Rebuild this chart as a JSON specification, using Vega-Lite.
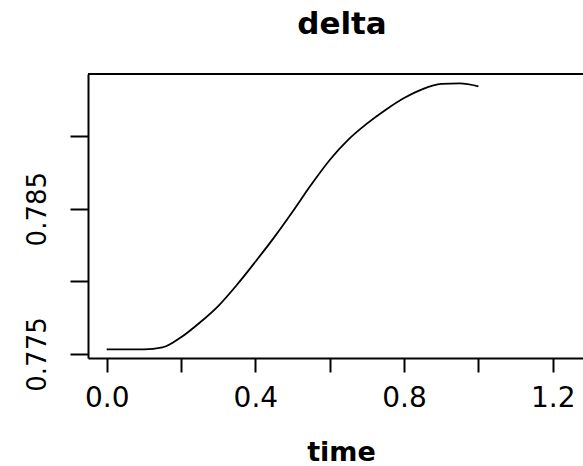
{
  "$schema": "https://vega.github.io/schema/vega-lite/v6.json",
  "autosize": {"type": "none"},
  "padding": {"left": 88, "top": 74, "right": 0, "bottom": 108},
  "width": 495,
  "height": 284,
  "background": "white",
  "title": {
    "text": "delta",
    "font": "DejaVu Sans",
    "fontWeight": "bold",
    "fontSize": 31,
    "color": "black",
    "anchor": "middle",
    "baseline": "alphabetic",
    "offset": 8,
    "dx": 6.5
  },
  "config": {
    "view": {"stroke": null},
    "axis": {
      "domainColor": "black",
      "domainWidth": 2,
      "tickColor": "black",
      "tickWidth": 2,
      "grid": false,
      "labelColor": "black",
      "titleColor": "black"
    }
  },
  "data": {
    "values": [
      {"time": 0.00, "delta": 0.77532},
      {"time": 0.05, "delta": 0.77532},
      {"time": 0.10, "delta": 0.77532},
      {"time": 0.15, "delta": 0.77545},
      {"time": 0.20, "delta": 0.77615},
      {"time": 0.25, "delta": 0.77715},
      {"time": 0.30, "delta": 0.77830},
      {"time": 0.35, "delta": 0.77975},
      {"time": 0.40, "delta": 0.78135},
      {"time": 0.45, "delta": 0.78301},
      {"time": 0.50, "delta": 0.78479},
      {"time": 0.55, "delta": 0.78664},
      {"time": 0.60, "delta": 0.78835},
      {"time": 0.65, "delta": 0.78975},
      {"time": 0.70, "delta": 0.79085},
      {"time": 0.75, "delta": 0.79179},
      {"time": 0.80, "delta": 0.79261},
      {"time": 0.85, "delta": 0.79323},
      {"time": 0.90, "delta": 0.79358},
      {"time": 0.95, "delta": 0.79362},
      {"time": 1.00, "delta": 0.79342}
    ]
  },
  "layer": [
    {
      "mark": {"type": "line", "color": "black", "strokeWidth": 1.8, "interpolate": "monotone"},
      "encoding": {
        "x": {
          "field": "time",
          "type": "quantitative",
          "scale": {"domain": [-0.0503, 1.2814], "nice": false, "zero": false},
          "axis": {
            "orient": "bottom",
            "values": [0, 0.2, 0.4, 0.6, 0.8, 1.0, 1.2],
            "format": ".1f",
            "labelExpr": "indexof(['0.0','0.4','0.8','1.2'], datum.label) >= 0 ? datum.label : ''",
            "tickSize": 14,
            "labelFont": "DejaVu Sans",
            "labelFontSize": 28,
            "labelPadding": 12,
            "labelFlush": false,
            "labelOverlap": false,
            "title": "time",
            "titleFont": "DejaVu Sans",
            "titleFontWeight": "bold",
            "titleFontSize": 27,
            "titleX": 253,
            "titleY": 94,
            "titleAlign": "center",
            "titleBaseline": "middle"
          }
        },
        "y": {
          "field": "delta",
          "type": "quantitative",
          "scale": {"domain": [0.774725, 0.794266], "nice": false, "zero": false},
          "axis": {
            "orient": "left",
            "values": [0.775, 0.78, 0.785, 0.79],
            "format": ".3f",
            "labelExpr": "datum.label == '0.775' || datum.label == '0.785' ? datum.label : ''",
            "tickSize": 18,
            "labelAngle": 270,
            "labelAlign": "center",
            "labelBaseline": "bottom",
            "labelFont": "DejaVu Sans",
            "labelFontSize": 26,
            "labelPadding": 20,
            "labelFlush": false,
            "labelOverlap": false,
            "title": null
          }
        }
      }
    },
    {
      "mark": {"type": "rule", "color": "black", "strokeWidth": 2},
      "encoding": {
        "x": {"datum": -0.0503, "type": "quantitative"},
        "x2": {"datum": 1.2814},
        "y": {"datum": 0.794266, "type": "quantitative"}
      }
    }
  ]
}
